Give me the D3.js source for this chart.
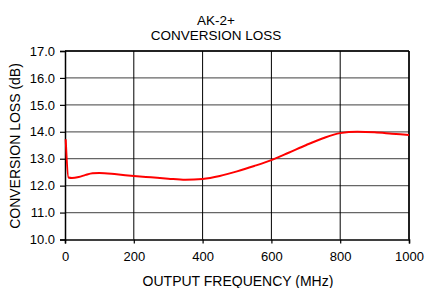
<!DOCTYPE html>
<html>
<head>
<meta charset="utf-8">
<script src="https://cdn.jsdelivr.net/npm/d3@7"></script>
<style>
  body { margin: 0; background: #fff; }
  text { font-family: "Liberation Sans", Arial, sans-serif; fill: #000; }
</style>
</head>
<body>
<svg width="425" height="288"></svg>
<script>
// chart data
var freqMHz = [2, 10, 20, 40, 60, 80, 100, 150, 200, 250, 300, 350, 400, 450, 500, 550, 600, 650, 700, 750, 800, 850, 900, 950, 1000];
var lossDb  = [13.72, 12.3, 12.28, 12.32, 12.40, 12.46, 12.47, 12.42, 12.36, 12.31, 12.26, 12.22, 12.25, 12.36, 12.53, 12.73, 12.95, 13.22, 13.50, 13.76, 13.95, 14.0, 13.98, 13.93, 13.88];
var xTicks = [0, 200, 400, 600, 800, 1000];
var yTicks = [10, 11, 12, 13, 14, 15, 16, 17];

var svg = d3.select("svg");
var plotL = 65, plotR = 409, plotT = 51, plotB = 239.5;

var x = d3.scaleLinear().domain([0, 1000]).range([plotL, plotR]);
var y = d3.scaleLinear().domain([10, 17]).range([plotB, plotT]);

// horizontal grid (grey)
svg.append("g").selectAll("line")
    .data(yTicks.slice(1))
    .enter().append("line")
    .attr("x1", plotL).attr("x2", plotR)
    .attr("y1", function(d) { return y(d); })
    .attr("y2", function(d) { return y(d); })
    .style("stroke", "#666").attr("stroke-width", 1.3);

// vertical grid (black)
svg.append("g").selectAll("line")
    .data(xTicks.slice(1))
    .enter().append("line")
    .attr("y1", plotT).attr("y2", plotB)
    .attr("x1", function(d) { return x(d); })
    .attr("x2", function(d) { return x(d); })
    .style("stroke", "#000").attr("stroke-width", 1);

// axes
var xAxis = svg.append("g")
    .attr("transform", "translate(0," + plotB + ")")
    .call(d3.axisBottom(x).tickValues(xTicks).tickSize(4).tickPadding(8).tickFormat(d3.format("d")));
var yAxis = svg.append("g")
    .attr("transform", "translate(" + plotL + ",0)")
    .call(d3.axisLeft(y).tickValues(yTicks).tickSize(5).tickPadding(5).tickFormat(d3.format(".1f")));

[xAxis, yAxis].forEach(function(a) {
    a.select(".domain").attr("stroke", "#000").attr("stroke-width", 1.5);
    a.selectAll(".tick line").attr("stroke", "#000").attr("stroke-width", 1.2);
    a.selectAll("text").attr("font-size", 13).attr("font-family", "Liberation Sans, Arial, sans-serif").attr("fill", "#000");
});
// top and right frame
svg.append("line").attr("x1", plotL).attr("x2", plotR).attr("y1", plotT).attr("y2", plotT)
    .style("stroke", "#000").attr("stroke-width", 1.5);
svg.append("line").attr("x1", plotR).attr("x2", plotR).attr("y1", plotT).attr("y2", plotB)
    .style("stroke", "#000").attr("stroke-width", 1.5);

// curve
var line = d3.line()
    .x(function(d, i) { return x(freqMHz[i]); })
    .y(function(d) { return y(d); })
    .curve(d3.curveMonotoneX);

svg.append("path")
    .datum(lossDb)
    .attr("d", line)
    .attr("fill", "none")
    .style("stroke", "#f00")
    .attr("stroke-width", 2);

// titles
svg.append("text").attr("x", 216).attr("y", 25).attr("text-anchor", "middle")
    .attr("font-size", 13.5).text("AK-2+");
svg.append("text").attr("x", 216).attr("y", 40).attr("text-anchor", "middle")
    .attr("font-size", 13.5).text("CONVERSION LOSS");
svg.append("text").attr("x", 238).attr("y", 286).attr("text-anchor", "middle")
    .attr("font-size", 14).text("OUTPUT FREQUENCY (MHz)");
svg.append("text").attr("transform", "translate(20,146) rotate(-90)")
    .attr("text-anchor", "middle").attr("font-size", 14).text("CONVERSION LOSS (dB)");
</script>
</body>
</html>
